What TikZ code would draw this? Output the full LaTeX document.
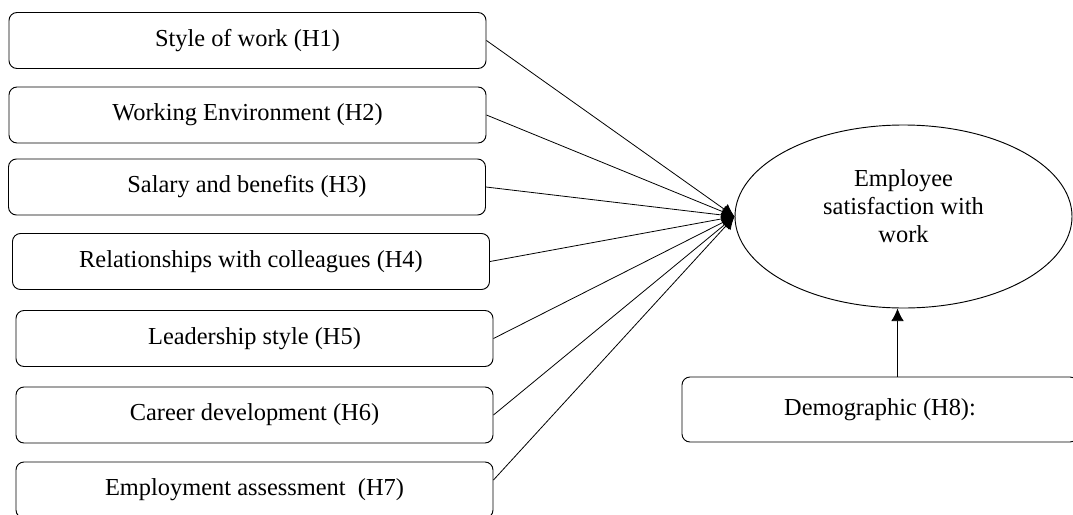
\documentclass[tikz,border=0pt]{standalone}
\usepackage{fontspec}
\setmainfont{Liberation Serif}
\usetikzlibrary{arrows.meta,shapes.geometric}

\begin{document}
\begin{tikzpicture}[x=0.75pt,y=-0.75pt,>={Latex[length=9.5pt,width=9.5pt]},
		factor/.style={draw,line width=0.7pt,rounded corners=6pt,minimum width=357.75pt,minimum height=42pt,inner sep=0pt,font=\fontsize{18.3}{21}\selectfont},
		link/.style={->,line width=0.6pt}]

			\useasboundingbox (0,0) rectangle (1073,514);
			\clip (0,0) rectangle (1073,514);

			% factors on the left
			\node [factor] (b1) at (247.5,40.5) {Style of work (H1)};
			\node [factor] (b2) at (247.5,115) {Working Environment (H2)};
			\node [factor] (b3) at (247,187) {Salary and benefits (H3)};
			\node [factor] (b4) at (251,261.5) {Relationships with colleagues (H4)};
			\node [factor] (b5) at (254.5,338.5) {Leadership style (H5)};
			\node [factor] (b6) at (254.5,415) {Career development (H6)};
			\node [factor] (b7) at (254.5,490) {Employment assessment\ \ (H7)};

			% outcome
			\node [draw,ellipse,line width=0.7pt,minimum width=252.75pt,minimum height=137.25pt,inner sep=0pt] (sat) at (903.5,216.5) {};
			\node [align=center,font=\fontsize{18.3}{21}\selectfont] (satlbl) at (903.5,206) {Employee\\satisfaction with\\work};

			\node [factor,minimum width=297pt,minimum height=48.75pt] (demo) at (880,409.5) {Demographic (H8):};

			\foreach \i in {1,...,6}
				\draw [link] (b\i.east) -- (sat.west);
			\draw [link] ([yshift=7.5pt]b7.east) -- (sat.west);

			\draw [link] ([xshift=-4.5pt]demo.north -| sat.south) -- ([xshift=-4.5pt]sat.south);
		\end{tikzpicture}
\end{document}
